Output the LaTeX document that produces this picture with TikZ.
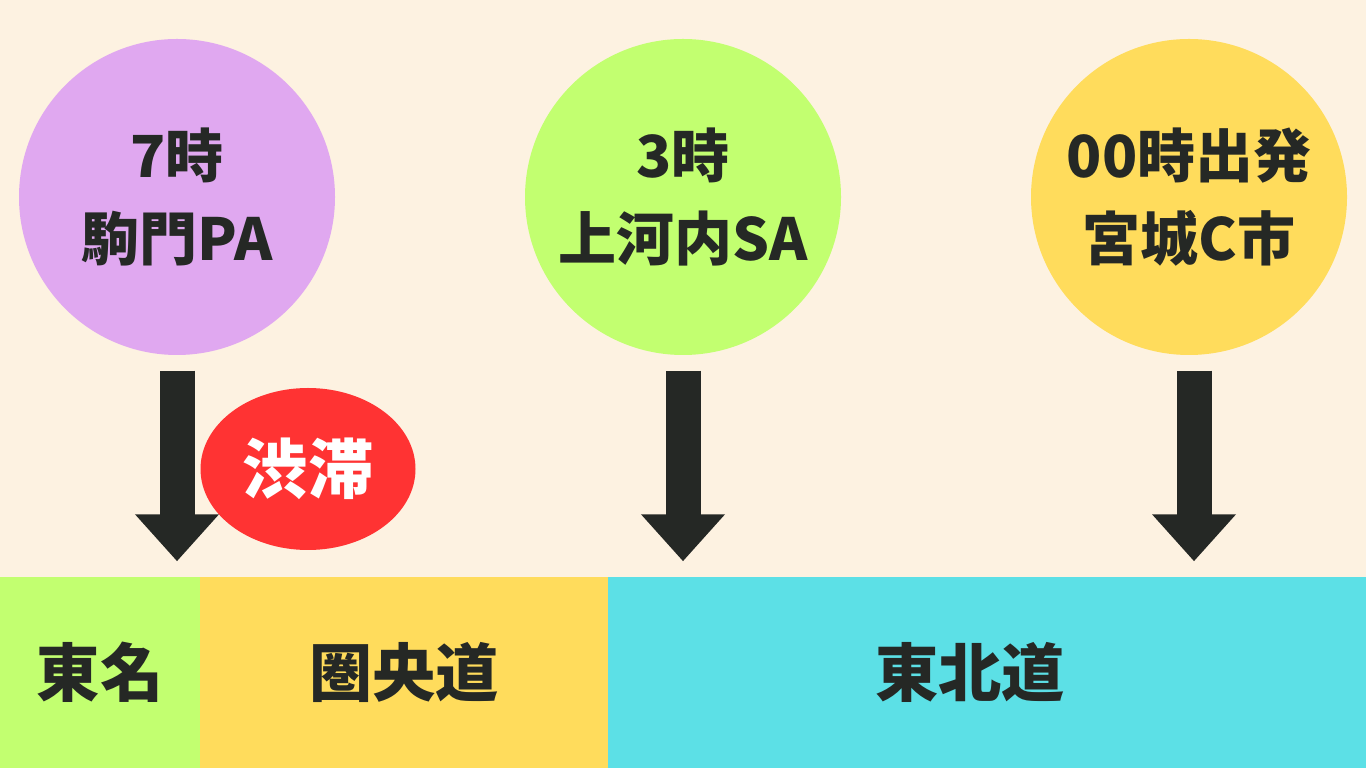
\documentclass[tikz,border=0pt]{standalone}
\usepackage{fontspec}
\setmainfont{Noto Sans CJK JP}
\definecolor{bgCream}{RGB}{253,242,225}
\definecolor{lilac}{RGB}{224,168,240}
\definecolor{lime}{RGB}{194,255,112}
\definecolor{sunYellow}{RGB}{255,220,92}
\definecolor{jamRed}{RGB}{255,51,51}
\definecolor{roadCyan}{RGB}{92,224,230}
\definecolor{inkDark}{RGB}{37,40,37}
\usetikzlibrary{arrows.meta,shapes.geometric}

\begin{document}
\begin{tikzpicture}[
    stop/.style={circle, minimum size=3.16cm, inner sep=0pt, align=center,
                 text=inkDark, font=\fontsize{16.5}{23.6}\selectfont\bfseries},
    road/.style={rectangle, minimum height=1.91cm, inner sep=0pt, text=inkDark,
                 font=\fontsize{18}{22}\selectfont\bfseries},
    arr/.style={draw=inkDark, line width=0.35cm, shorten <=0.15cm, shorten >=0.15cm,
                -{Triangle[width=0.81cm, length=0.47cm]}}
  ]
  \fill[bgCream] (0,0) rectangle (13.66,7.68);
  \useasboundingbox (0,0) rectangle (13.66,7.68);

  % roads
  \node[road, fill=lime, minimum width=2cm]      (tomei)  at (1.00, 0.955) {東名};
  \node[road, fill=sunYellow, minimum width=4.08cm] (kenou) at (4.04, 0.955) {圏央道};
  \node[road, fill=roadCyan, minimum width=7.58cm]  (tohoku) at (9.87, 0.955) {\hspace*{-0.34cm}東北道};

  % stops
  \node[stop, fill=lilac]     (komon)   at (1.77, 5.71) {7時\\駒門PA};
  \node[stop, fill=lime]      (kamiko)  at (6.83, 5.71) {3時\\上河内SA};
  \node[stop, fill=sunYellow] (miyagi)  at (11.89, 5.71) {00時出発\\宮城C市};

  \draw[arr] (komon.south) -- (komon.south |- tomei.north);
  \draw[arr] (kamiko.south) -- (kamiko.south |- tohoku.north);
  \draw[arr] ([xshift=0.05cm]miyagi.south) -- ([xshift=0.05cm]miyagi.south |- tohoku.north);

  % jam
  \node[ellipse, fill=jamRed, minimum width=2.15cm, minimum height=1.62cm, inner sep=0pt,
        text=white, font=\fontsize{18.5}{22}\selectfont\bfseries] (jam) at (3.08, 2.99) {渋滞};
\end{tikzpicture}
\end{document}
